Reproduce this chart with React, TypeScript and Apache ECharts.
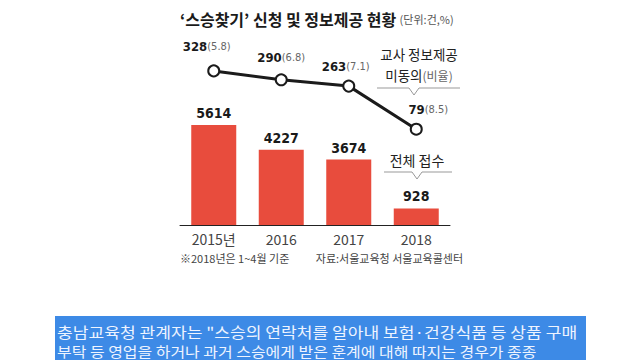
import React, { useEffect, useRef } from "react";
import * as echarts from "echarts";

const categories = ["2015년", "2016", "2017", "2018"];
const applications = [5614, 4227, 3674, 928];
const refusals = [328, 290, 263, 79];
const refusalRates = [5.8, 6.8, 7.1, 8.5];

const titleText = "‘스승찾기’ 신청 및 정보제공 현황";
const unitText = "(단위:건,%)";
const noteText = "※2018년은 1~4월 기준";
const sourceText = "자료:서울교육청 서울교육콜센터";
const bodyLine1 = "충남교육청 관계자는 \"스승의 연락처를 알아내 보험·건강식품 등 상품 구매";
const bodyLine2 = "부탁 등 영업을 하거나 과거 스승에게 받은 훈계에 대해 따지는 경우가 종종";

const lineLabelOffsets = [[-7, -6], [0, -4], [-3, -2], [12, -2]];

const KR = "'Noto Sans CJK KR', 'Noto Sans', sans-serif";
const NUM = "'Liberation Sans Narrow', 'DejaVu Sans Condensed', 'Roboto', sans-serif";

export default function App() {
  const ref = useRef<HTMLDivElement>(null);
  useEffect(() => {
    if (!ref.current) return;
    const chart = echarts.init(ref.current, null, { renderer: "svg" });
    chart.setOption({
      animation: false,
      backgroundColor: "#ffffff",
      grid: { left: 180, right: 190, top: 47, bottom: 135 },
      xAxis: {
        type: "category",
        data: categories,
        axisLine: { show: true, lineStyle: { color: "#222", width: 1 } },
        axisTick: { show: false },
        axisLabel: { color: "#444", fontSize: 14, fontFamily: KR, margin: 7 },
      },
      yAxis: [
        { type: "value", min: 0, max: 10000, show: false, splitLine: { show: false } },
        { type: "value", min: -330, max: 430, show: false, splitLine: { show: false } },
      ],
      series: [
        {
          type: "bar",
          data: applications,
          barWidth: 45,
          yAxisIndex: 0,
          itemStyle: { color: "#e84c3d" },
          label: {
            show: true,
            position: "top",
            distance: 5,
            color: "#1a1a1a",
            fontSize: 14,
            fontWeight: "bold",
            fontFamily: NUM,
          },
        },
        {
          type: "line",
          yAxisIndex: 1,
          data: refusals.map((v, i) => ({
            value: v,
            label: { offset: lineLabelOffsets[i] },
          })),
          lineStyle: { color: "#1b1b1b", width: 3 },
          symbol: "circle",
          symbolSize: 11,
          itemStyle: { color: "#ffffff", borderColor: "#1b1b1b", borderWidth: 2 },
          z: 5,
          label: {
            show: true,
            position: "top",
            distance: 5,
            formatter: (p: any) => `{b|${p.value}}{s|(${refusalRates[p.dataIndex]})}`,
            rich: {
              b: { fontSize: 13, fontWeight: "bold", color: "#1a1a1a", fontFamily: NUM },
              s: { fontSize: 11, color: "#666", fontFamily: NUM },
            },
          },
        },
      ],
      graphic: [
        {
          type: "text",
          left: 180,
          top: 11,
          style: {
            text: `{t|${titleText}} {u|${unitText}}`,
            rich: {
              t: { fontSize: 16, fontWeight: "bold", fill: "#1a1a1a", fontFamily: KR },
              u: { fontSize: 11, fill: "#555", fontFamily: KR },
            },
          },
        },
        {
          type: "text",
          x: 419,
          y: 54,
          style: {
            text: "교사 정보제공",
            fontSize: 13.5,
            lineHeight: 18,
            fill: "#222",
            fontFamily: KR,
            align: "center",
            verticalAlign: "middle",
          },
        },
        {
          type: "text",
          x: 419,
          y: 75,
          style: {
            text: "{a|미동의}{b|(비율)}",
            align: "center",
            verticalAlign: "middle",
            rich: {
              a: { fontSize: 13.5, lineHeight: 18, fill: "#222", fontFamily: KR },
              b: { fontSize: 12, lineHeight: 18, fill: "#666", fontFamily: KR },
            },
          },
        },
        {
          type: "polyline",
          shape: { points: [[377, 88], [409, 88], [414, 95], [419, 88], [460, 88]] },
          style: { stroke: "#999", lineWidth: 1, fill: null },
        },
        {
          type: "text",
          x: 417,
          y: 160,
          style: {
            text: "전체 접수",
            fontSize: 14,
            fill: "#222",
            fontFamily: KR,
            align: "center",
            verticalAlign: "middle",
          },
        },
        {
          type: "polyline",
          shape: { points: [[384, 172], [412, 172], [417, 179], [422, 172], [452, 172]] },
          style: { stroke: "#999", lineWidth: 1, fill: null },
        },
        {
          type: "text",
          x: 180,
          y: 258,
          style: {
            text: noteText,
            fontSize: 11,
            fill: "#444",
            fontFamily: KR,
            verticalAlign: "middle",
          },
        },
        {
          type: "text",
          x: 463,
          y: 258,
          style: {
            text: sourceText,
            fontSize: 11,
            fill: "#444",
            fontFamily: KR,
            align: "right",
            verticalAlign: "middle",
          },
        },
        {
          type: "rect",
          shape: { x: 55, y: 316, width: 531, height: 44 },
          style: { fill: "#3d8ae6" },
        },
        {
          type: "text",
          x: 57,
          y: 331,
          scaleX: 1.14,
          style: {
            text: bodyLine1,
            fontSize: 15,
            fill: "#eef4ff",
            fontFamily: KR,
            verticalAlign: "middle",
          },
        },
        {
          type: "text",
          x: 57,
          y: 351,
          scaleX: 1.14,
          style: {
            text: bodyLine2,
            fontSize: 14,
            fill: "#eef4ff",
            fontFamily: KR,
            verticalAlign: "middle",
          },
        },
      ],
    });
    return () => chart.dispose();
  }, []);
  return (
    <div
      ref={ref}
      style={{ position: "fixed", left: 0, top: 0, width: 640, height: 360 }}
    />
  );
}
